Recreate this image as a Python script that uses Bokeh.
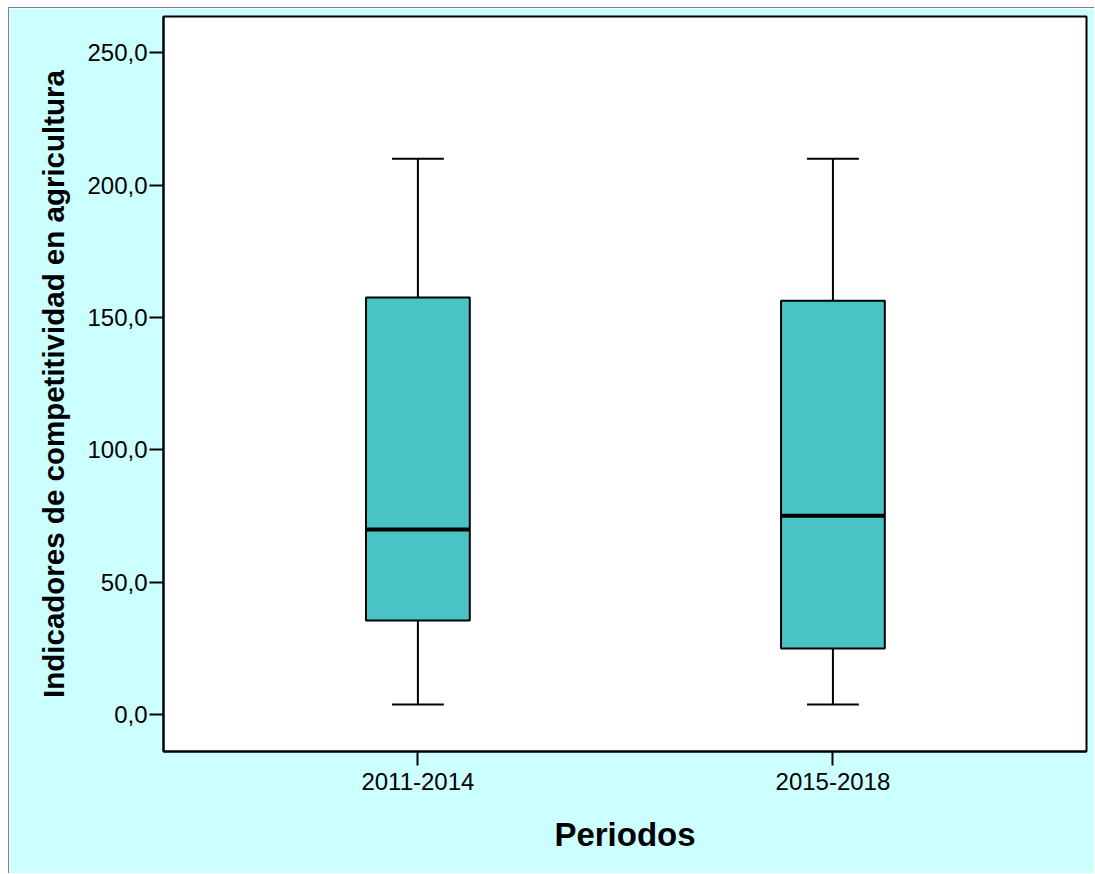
from bokeh.plotting import figure
from bokeh.models import Range1d, FixedTicker
from bokeh.embed import file_html
from bokeh.resources import INLINE

# data
periods = ["2011-2014", "2015-2018"]
x_pos = [1, 2]
whisker_low = [3.8, 3.8]
q1 = [35.5, 24.9]
median = [69.9, 75.1]
q3 = [157.5, 156.3]
whisker_high = [210.0, 210.0]
y_ticks = [0, 50, 100, 150, 200, 250]
y_tick_labels = ["0,0", "50,0", "100,0", "150,0", "200,0", "250,0"]

BG = "#CCFFFF"
FILL = "#4AC3C6"
FONT = "Liberation Sans"

p = figure(width=1086, height=866, output_backend="svg", toolbar_location=None,
           x_range=Range1d(0.387, 2.611), y_range=Range1d(-14.0, 263.7),
           min_border_left=154, min_border_right=9, min_border_top=8, min_border_bottom=123)
p.background_fill_color = "white"
p.border_fill_color = BG
p.outline_line_color = "black"
p.outline_line_width = 2
p.xgrid.visible = False
p.ygrid.visible = False
p.styles = {"margin-left": "8px", "margin-top": "7px",
            "border-left": "1px solid #808080", "border-top": "1px solid #808080"}

bw = 0.25
cw = 0.125
xl = [x - cw / 2 for x in x_pos]
xr = [x + cw / 2 for x in x_pos]
bl = [x - bw / 2 for x in x_pos]
br = [x + bw / 2 for x in x_pos]

# whiskers
p.segment(x0=x_pos, y0=q3, x1=x_pos, y1=whisker_high, line_color="black", line_width=2)
p.segment(x0=x_pos, y0=whisker_low, x1=x_pos, y1=q1, line_color="black", line_width=2)
p.segment(x0=xl, y0=whisker_high, x1=xr, y1=whisker_high, line_color="black", line_width=2)
p.segment(x0=xl, y0=whisker_low, x1=xr, y1=whisker_low, line_color="black", line_width=2)
# boxes
p.vbar(x=x_pos, width=bw, bottom=q1, top=q3, fill_color=FILL, line_color="black", line_width=2)
# medians
p.segment(x0=bl, y0=median, x1=br, y1=median, line_color="black", line_width=4)

# axes
for ax in (p.xaxis[0], p.yaxis[0]):
    ax.axis_line_color = "black"
    ax.axis_line_width = 2
    ax.major_tick_line_color = "black"
    ax.major_tick_line_width = 2
    ax.major_tick_out = 14
    ax.major_tick_in = 0
    ax.minor_tick_line_color = None
    ax.major_label_text_font = FONT
    ax.major_label_text_font_size = "24px"
    ax.major_label_text_color = "black"
    ax.axis_label_text_font = FONT
    ax.axis_label_text_font_style = "bold"
    ax.axis_label_text_color = "black"

p.xaxis.ticker = FixedTicker(ticks=x_pos)
p.xaxis.major_label_overrides = {x: lab for x, lab in zip(x_pos, periods)}
p.xaxis.axis_label = "Periodos"
p.xaxis.axis_label_text_font_size = "33px"
p.xaxis.major_label_standoff = 7
p.xaxis.axis_label_standoff = 23

p.yaxis.ticker = FixedTicker(ticks=y_ticks)
p.yaxis.major_label_overrides = {t: lab for t, lab in zip(y_ticks, y_tick_labels)}
p.yaxis.axis_label = "Indicadores de competitividad en agricultura"
p.yaxis.axis_label_text_font_size = "29.5px"
p.yaxis.major_label_standoff = 2
p.yaxis.axis_label_standoff = 14

open("out.html", "w").write(file_html(p, INLINE))
